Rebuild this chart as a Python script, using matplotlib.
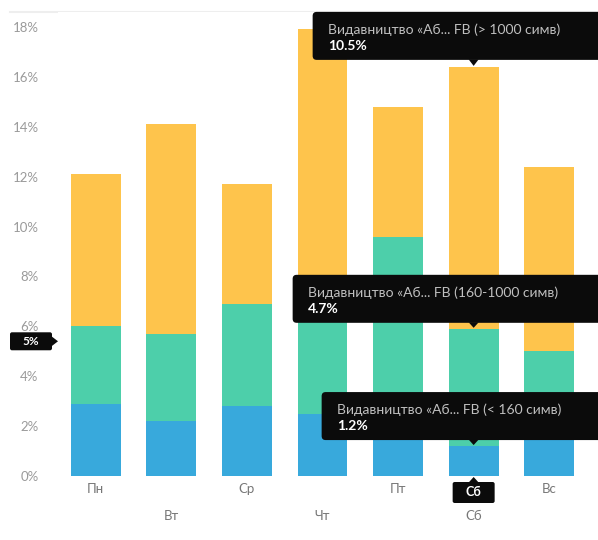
import matplotlib
matplotlib.use("Agg")
import matplotlib.pyplot as plt
from matplotlib.patches import FancyBboxPatch, Polygon
from matplotlib.transforms import IdentityTransform
from matplotlib.lines import Line2D

plt.rcParams['font.family'] = ['Lato', 'DejaVu Sans']

# Дані (частка, %)
days = ['Пн', 'Вт', 'Ср', 'Чт', 'Пт', 'Сб', 'Вс']
short_posts = [2.9, 2.2, 2.8, 2.5, 2.2, 1.2, 1.8]     # < 160 симв
mid_posts = [3.1, 3.5, 4.1, 5.3, 7.4, 4.7, 3.2]       # 160-1000 симв
long_posts = [6.1, 8.4, 4.8, 10.1, 5.2, 10.5, 7.4]    # > 1000 симв
yticks = [0, 2, 4, 6, 8, 10, 12, 14, 16, 18]

series_names = ['Видавництво «Аб... FB (< 160 симв)',
                'Видавництво «Аб... FB (160-1000 симв)',
                'Видавництво «Аб... FB (> 1000 симв)']
colors = ['#38a9dc', '#4dcfaa', '#fec44c']

hover_day = 5      # Сб
hover_value = 5.4  # положення курсору по осі Y

W, H = 598, 540
fig = plt.figure(figsize=(W / 100, H / 100), dpi=100)
ax = fig.add_axes([58 / W, 64 / H, 529 / W, 464 / H])

x = range(len(days))
bottom = [0] * len(days)
for vals, col in zip([short_posts, mid_posts, long_posts], colors):
    ax.bar(x, vals, bottom=bottom, width=0.66, color=col, linewidth=0, zorder=2)
    bottom = [b + v for b, v in zip(bottom, vals)]

ax.set_xlim(-0.5, len(days) - 0.5)
ax.set_ylim(0, 18.6)
ax.set_yticks(yticks)
ax.set_yticklabels([f'{t}%' for t in yticks], color='#9a9a9a', fontsize=9.5)
ax.tick_params(axis='y', length=0, pad=14)
ax.set_xticks([])
for s in ax.spines.values():
    s.set_visible(False)

# Підписи днів у два ряди
for i, d in enumerate(days):
    if i % 2 == 0:
        if i == hover_day:
            continue
        ax.annotate(d, (i, 0), xytext=(0, -13), textcoords='offset pixels',
                    ha='center', va='center', color='#777777', fontsize=9.5)
    else:
        ax.annotate(d, (i, 0), xytext=(0, -40), textcoords='offset pixels',
                    ha='center', va='center', color='#777777', fontsize=9.5)

# світла лінія вгорі
fig.add_artist(Line2D([10, W], [H - 12, H - 12], transform=IdentityTransform(),
                      color='#eeeeee', lw=1.5, zorder=0))

ident = IdentityTransform()
BLACK = '#0b0b0b'


def tooltip(day, value, name, share, left_off, gap=6, height=48):
    axp, ayp = ax.transData.transform((day, value))
    y0 = ayp + gap
    box = FancyBboxPatch((axp - left_off, y0), W + 10 - (axp - left_off), height,
                         boxstyle='round,pad=0,rounding_size=4', transform=ident,
                         facecolor=BLACK, edgecolor='none', zorder=5)
    fig.add_artist(box)
    tri = Polygon([[axp - 5, y0 + 0.5], [axp + 5, y0 + 0.5], [axp, ayp + 1]],
                  closed=True, transform=ident, facecolor=BLACK,
                  edgecolor='none', zorder=5)
    fig.add_artist(tri)
    fig.text((axp - left_off + 15) / W, (y0 + height - 18) / H, name,
             color='#c0c0c0', fontsize=10, ha='left', va='center', zorder=6)
    fig.text((axp - left_off + 15) / W, (y0 + height - 34) / H, share,
             color='white', fontsize=10, fontweight='bold', ha='left',
             va='center', zorder=6)


tooltip(hover_day, short_posts[hover_day] + mid_posts[hover_day] + long_posts[hover_day],
        series_names[2], f'{long_posts[hover_day]}%', 161, gap=7)
tooltip(hover_day, short_posts[hover_day] + mid_posts[hover_day],
        series_names[1], f'{mid_posts[hover_day]}%', 181)
tooltip(hover_day, short_posts[hover_day],
        series_names[0], f'{short_posts[hover_day]}%', 152)

# мітка курсору на осі Y
axl, yp = ax.transData.transform((-0.5, hover_value))
fig.add_artist(FancyBboxPatch((axl - 48, yp - 9), 42, 18,
                              boxstyle='round,pad=0,rounding_size=2', transform=ident,
                              facecolor=BLACK, edgecolor='none', zorder=5))
fig.add_artist(Polygon([[axl - 6.5, yp + 5], [axl - 6.5, yp - 5], [axl, yp]],
                       closed=True, transform=ident, facecolor=BLACK,
                       edgecolor='none', zorder=5))
fig.text((axl - 27) / W, yp / H, f'{round(hover_value)}%', color='white',
         fontsize=8.5, fontweight='bold', ha='center', va='center', zorder=6)

# мітка курсору на осі X
xp, ab = ax.transData.transform((hover_day, 0))
fig.add_artist(FancyBboxPatch((xp - 21, ab - 27), 42, 21,
                              boxstyle='round,pad=0,rounding_size=2', transform=ident,
                              facecolor=BLACK, edgecolor='none', zorder=5))
fig.add_artist(Polygon([[xp - 5, ab - 6.5], [xp + 5, ab - 6.5], [xp, ab - 1]],
                       closed=True, transform=ident, facecolor=BLACK,
                       edgecolor='none', zorder=5))
fig.text(xp / W, (ab - 16.5) / H, days[hover_day], color='white',
         fontsize=9, fontweight='bold', ha='center', va='center', zorder=6)

fig.savefig('out.png', dpi=100)
